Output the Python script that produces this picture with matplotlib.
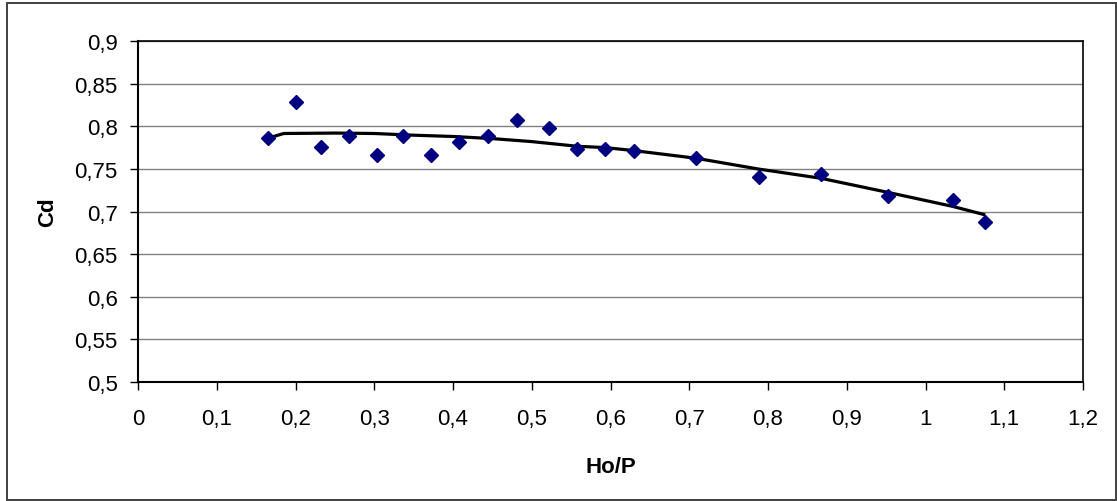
import matplotlib
matplotlib.use('Agg')
import matplotlib.pyplot as plt
from matplotlib.ticker import FuncFormatter, MultipleLocator
from matplotlib.patches import Rectangle

# Measured discharge coefficient against relative head
ho_p = [0.165, 0.200, 0.233, 0.268, 0.303, 0.337, 0.372, 0.407, 0.444, 0.481,
        0.522, 0.558, 0.593, 0.630, 0.709, 0.788, 0.867, 0.952, 1.035, 1.076]
cd = [0.786, 0.829, 0.776, 0.789, 0.766, 0.789, 0.766, 0.782, 0.789, 0.807,
      0.798, 0.773, 0.773, 0.771, 0.763, 0.741, 0.744, 0.718, 0.714, 0.688]

# Trend line
trend_x = [0.165, 0.185, 0.25, 0.30, 0.35, 0.40, 0.45, 0.50, 0.558, 0.593,
           0.630, 0.709, 0.788, 0.867, 0.952, 1.0345, 1.076]
trend_y = [0.786, 0.7915, 0.792, 0.7915, 0.7895, 0.788, 0.7855, 0.782, 0.7765, 0.775,
           0.7714, 0.7624, 0.7498, 0.739, 0.7225, 0.706, 0.696]

plt.rcParams['font.family'] = ['Liberation Sans', 'DejaVu Sans']

fig = plt.figure(figsize=(11.17, 5.02), dpi=100)
ax = fig.add_axes([138/1117, 1 - 383/502, (1083 - 138)/1117, (383 - 42)/502])

ax.plot(trend_x, trend_y, color='black', lw=2.3, zorder=3, solid_capstyle='butt')
ax.plot(ho_p, cd, linestyle='none', marker='D', ms=6.8, color='#000080', zorder=4)

ax.set_xlim(0, 1.2)
ax.set_ylim(0.5, 0.9)
ax.xaxis.set_major_locator(MultipleLocator(0.1))
ax.yaxis.set_major_locator(MultipleLocator(0.05))

comma = FuncFormatter(lambda v, pos: '{:g}'.format(round(v, 3)).replace('.', ','))
ax.xaxis.set_major_formatter(comma)
ax.yaxis.set_major_formatter(comma)

ax.grid(axis='y', color='#808080', lw=1.0)
ax.set_axisbelow(True)
ax.tick_params(direction='out', length=6, width=1, color='black', labelsize=16)
ax.tick_params(axis='x', pad=13)
ax.tick_params(axis='y', pad=8.5)

for s in ax.spines.values():
    s.set_color('black')
    s.set_linewidth(1.2)
ax.spines['left'].set_linewidth(1.5)
ax.spines['bottom'].set_linewidth(1.5)

ax.set_xlabel('Ho/P', fontsize=16, fontweight='bold', labelpad=19)
ax.set_ylabel('Cd', fontsize=16, fontweight='bold', labelpad=12)

# outer chart frame
fig.patches.append(Rectangle((6.5/1117, 1.5/502), 1109/1117, 497/502,
                             transform=fig.transFigure, fill=False,
                             edgecolor='#404040', lw=1.4))

fig.savefig('out.png', dpi=100)
